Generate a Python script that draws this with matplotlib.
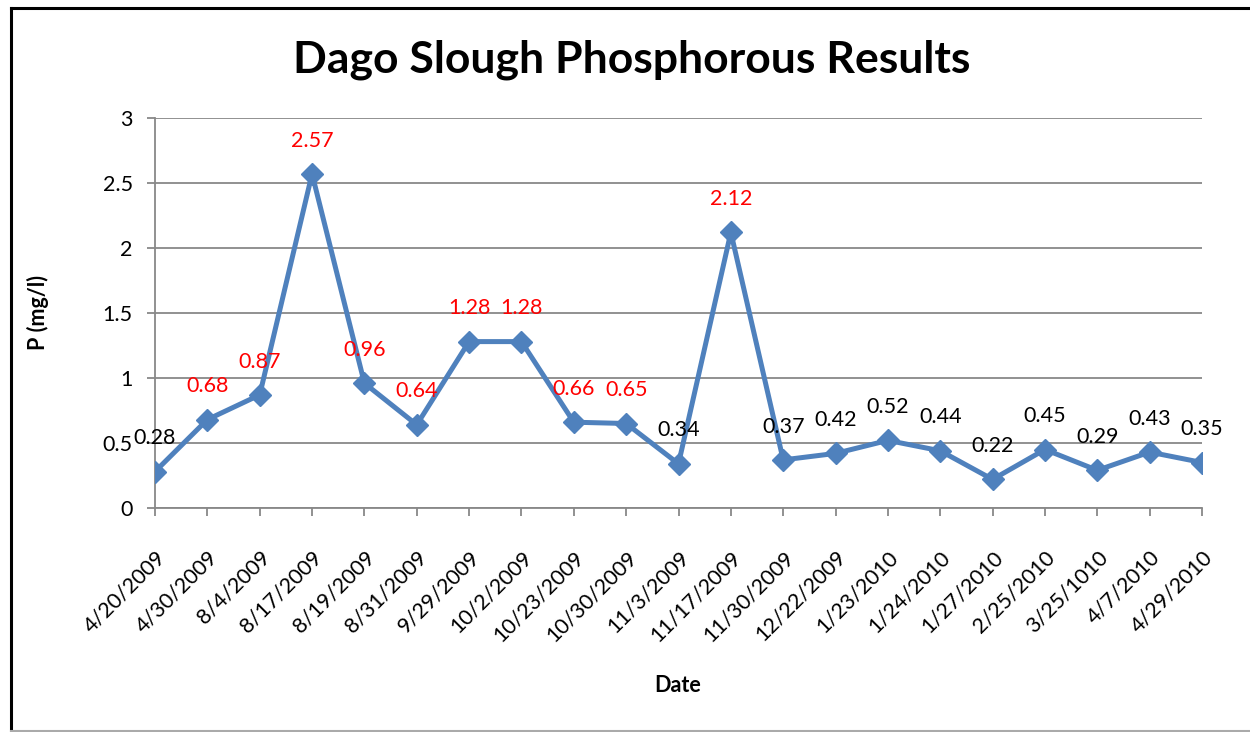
import matplotlib
matplotlib.use('Agg')
import matplotlib.pyplot as plt
from matplotlib.lines import Line2D

plt.rcParams['font.family'] = ['Lato', 'DejaVu Sans']

dates = ['4/20/2009', '4/30/2009', '8/4/2009', '8/17/2009', '8/19/2009', '8/31/2009',
         '9/29/2009', '10/2/2009', '10/23/2009', '10/30/2009', '11/3/2009', '11/17/2009',
         '11/30/2009', '12/22/2009', '1/23/2010', '1/24/2010', '1/27/2010', '2/25/2010',
         '3/25/1010', '4/7/2010', '4/29/2010']
phos = [0.28, 0.68, 0.87, 2.57, 0.96, 0.64, 1.28, 1.28, 0.66, 0.65, 0.34, 2.12,
        0.37, 0.42, 0.52, 0.44, 0.22, 0.45, 0.29, 0.43, 0.35]
label_colors = ['black', 'red', 'red', 'red', 'red', 'red', 'red', 'red', 'red', 'red', 'black', 'red',
                'black', 'black', 'black', 'black', 'black', 'black', 'black', 'black', 'black']

fig = plt.figure(figsize=(12.5, 7.32), dpi=100)
ax = fig.add_axes([155/1250, 1 - 508/732, (1202-155)/1250, (508-118)/732])

x = list(range(len(dates)))
ax.plot(x, phos, color='#4F81BD', linewidth=3.6, marker='D', markersize=11, zorder=3)

for xi, v, c in zip(x, phos, label_colors):
    ax.annotate(f'{v:g}', (xi, v), xytext=(0, 24), textcoords='offset points',
                ha='center', va='center', fontsize=15.5, color=c)

ax.set_xlim(0, len(dates) - 1)
ax.set_ylim(0, 3)
ax.set_yticks([0, 0.5, 1, 1.5, 2, 2.5, 3])
ax.set_yticklabels(['0', '0.5', '1', '1.5', '2', '2.5', '3'])
ax.set_xticks(x)
ax.set_xticklabels(dates, rotation=45, ha='right', rotation_mode='anchor')
ax.tick_params(axis='both', labelsize=15.5, color='#888888', length=6, width=1.3)
ax.tick_params(axis='y', pad=10)
ax.tick_params(axis='x', pad=22)
ax.yaxis.grid(True, color='#888888', linewidth=1.3)
ax.set_axisbelow(True)
for s in ['top', 'right']:
    ax.spines[s].set_visible(False)
for s in ['left', 'bottom']:
    ax.spines[s].set_color('#888888')
    ax.spines[s].set_linewidth(1.3)

fig.text(632/1250, 1 - 60/732, 'Dago Slough Phosphorous Results', ha='center', va='center',
         fontsize=32, fontweight='bold')
fig.text(678/1250, 1 - 685/732, 'Date', ha='center', va='center', fontsize=15.5, fontweight='bold')
fig.text(38/1250, 1 - 313/732, 'P (mg/l)', ha='center', va='center', fontsize=15.5,
         fontweight='bold', rotation=90)

# chart frame: black left/top, grey bottom
fig.lines.append(Line2D([11/1250, 11/1250], [1/732, 1 - 8/732], transform=fig.transFigure,
                        color='black', linewidth=2.2))
fig.lines.append(Line2D([11/1250, 1], [1 - 8/732, 1 - 8/732], transform=fig.transFigure,
                        color='black', linewidth=2.2))
fig.lines.append(Line2D([11/1250, 1], [1/732, 1/732], transform=fig.transFigure,
                        color='#aaaaaa', linewidth=1.5))

fig.savefig('out.png', dpi=100)
